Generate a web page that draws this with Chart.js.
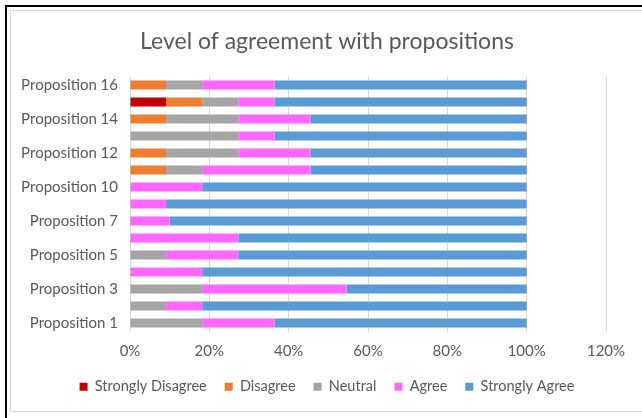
<!DOCTYPE html>
<html>
<head>
<meta charset="utf-8">
<script src="https://cdn.jsdelivr.net/npm/chart.js@4"></script>
<style>
  html, body { margin: 0; padding: 0; background: #fff; overflow: hidden; }
  #frame {
    position: absolute; left: 5px; top: 5px; width: 660px; height: 430px;
    border-top: 2px solid #000; border-left: 2px solid #000;
  }
  #chart-box {
    position: absolute; left: 10px; top: 10px; width: 632px; height: 400px;
    border: 1px solid #d9d9d9; background: #fff;
  }
</style>
</head>
<body>
<div id="frame"></div>
<div id="chart-box"><canvas id="agreement"></canvas></div>
<script>
// Propositions de bas en haut (ordre Excel)
const propositions = [
    'Proposition 1', 'Proposition 2', 'Proposition 3', 'Proposition 4', 'Proposition 5',
    'Proposition 6', 'Proposition 7', 'Proposition 8', 'Proposition 10', 'Proposition 11',
    'Proposition 12', 'Proposition 13', 'Proposition 14', 'Proposition 15', 'Proposition 16'
];

// Pourcentages par niveau d'accord
const stronglyDisagree = [0, 0, 0, 0, 0, 0, 0, 0, 0, 0, 0, 0, 0, 9.1, 0];
const disagree         = [0, 0, 0, 0, 0, 0, 0, 0, 0, 9.1, 9.1, 0, 9.1, 9.1, 9.1];
const neutral          = [18.2, 9.1, 18.2, 0, 9.1, 0, 0, 0, 0, 9.1, 18.2, 27.3, 18.2, 9.1, 9.1];
const agree            = [18.2, 9.1, 36.4, 18.2, 18.2, 27.3, 10, 9.1, 18.2, 27.3, 18.2, 9.1, 18.2, 9.1, 18.2];
const stronglyAgree    = [63.6, 81.8, 45.4, 81.8, 72.7, 72.7, 90, 90.9, 81.8, 54.5, 54.5, 63.6, 54.5, 63.6, 63.6];

const xTicks = [0, 20, 40, 60, 80, 100, 120];

const textColor = '#595959';
const fontFamily = 'Lato, "Open Sans", sans-serif';

const series = [
    { label: 'Strongly Disagree', data: stronglyDisagree, color: '#C00000' },
    { label: 'Disagree', data: disagree, color: '#ED7D31' },
    { label: 'Neutral', data: neutral, color: '#A5A5A5' },
    { label: 'Agree', data: agree, color: '#FF66FF' },
    { label: 'Strongly Agree', data: stronglyAgree, color: '#5B9BD5' }
];

const ctx = document.getElementById('agreement').getContext('2d');
new Chart(ctx, {
    type: 'bar',
    data: {
        labels: propositions,
        datasets: series.map(s => ({
            label: s.label,
            data: s.data,
            backgroundColor: s.color,
            borderWidth: 0,
            barPercentage: 0.53,
            categoryPercentage: 1
        }))
    },
    options: {
        indexAxis: 'y',
        responsive: true,
        maintainAspectRatio: false,
        animation: false,
        layout: { padding: { left: 0, right: 0, top: 0, bottom: 7 } },
        scales: {
            x: {
                stacked: true,
                min: xTicks[0],
                max: xTicks[xTicks.length - 1],
                afterBuildTicks: axis => { axis.ticks = xTicks.map(v => ({ value: v })); },
                afterFit: scale => { scale.height = 30; },
                grid: { color: '#d9d9d9', drawTicks: false },
                border: { display: false },
                ticks: {
                    padding: 11,
                    color: textColor,
                    font: { family: fontFamily, size: 15 },
                    callback: v => v + '%'
                }
            },
            y: {
                stacked: true,
                reverse: true,
                grid: { display: false, drawTicks: false },
                border: { display: false },
                afterFit: scale => { scale.width = 119; },
                ticks: {
                    autoSkip: false,
                    padding: 12,
                    color: textColor,
                    font: { family: fontFamily, size: 15 },
                    callback: function (value, index) {
                        return index % 2 === 0 ? this.getLabelForValue(value) : '';
                    }
                }
            },
            // marge droite de la zone de tracé
            yPad: {
                type: 'linear',
                position: 'right',
                grid: { display: false, drawTicks: false },
                border: { display: false },
                ticks: { display: false },
                afterFit: scale => { scale.width = 37; }
            }
        },
        plugins: {
            title: {
                display: true,
                text: 'Level of agreement with propositions',
                color: textColor,
                font: { family: fontFamily, size: 23, weight: 'normal' },
                padding: { top: 17, bottom: 21 }
            },
            legend: {
                position: 'bottom',
                maxHeight: 43,
                labels: {
                    color: textColor,
                    font: { family: fontFamily, size: 14.5 },
                    boxWidth: 8,
                    boxHeight: 8,
                    padding: 18
                }
            },
            tooltip: { enabled: false }
        }
    }
});
</script>
</body>
</html>
